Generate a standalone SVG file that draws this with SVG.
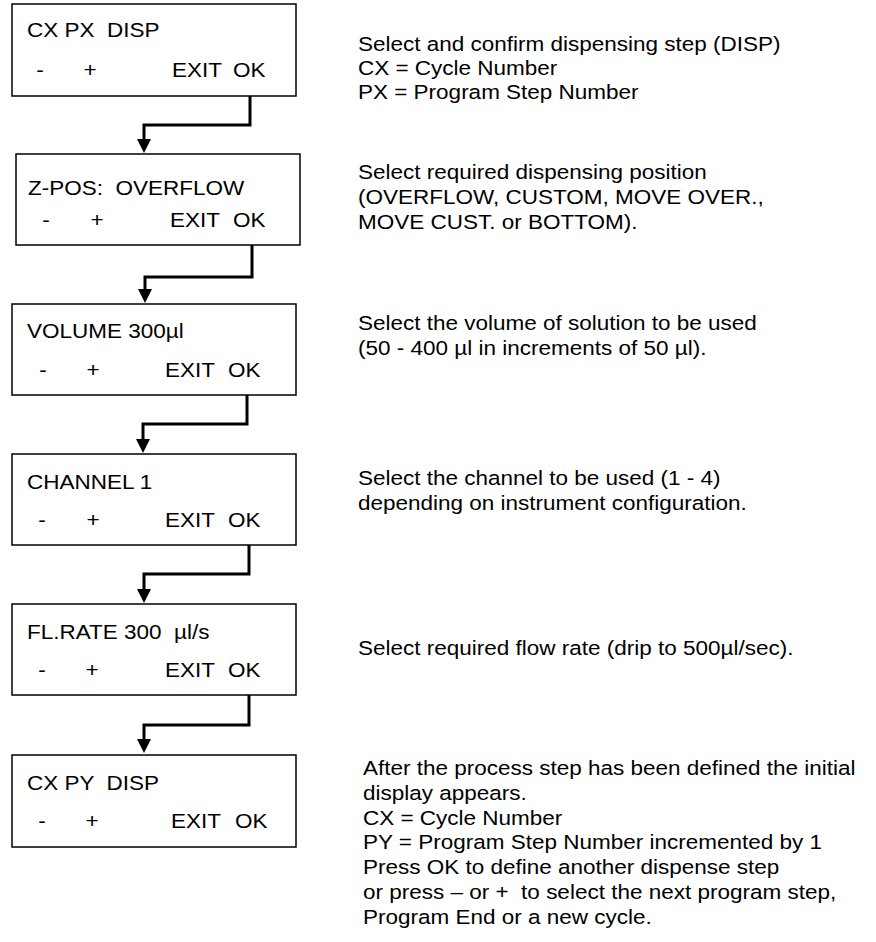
<svg xmlns="http://www.w3.org/2000/svg" width="876" height="942" viewBox="0 0 876 942">
<style>
.box{fill:#fff;stroke:#000;stroke-width:1.5}
.t{font-family:"Liberation Sans",Arial,sans-serif;font-size:22.5px;fill:#000}
.c{text-anchor:middle}
.d{font-family:"Liberation Sans",Arial,sans-serif;font-size:22.5px;fill:#000}
.con{fill:none;stroke:#000;stroke-width:3;marker-end:url(#ah)}
</style>
<defs>
<marker id="ah" markerUnits="userSpaceOnUse" viewBox="0 0 14 14" refX="2" refY="7" markerWidth="14" markerHeight="14" orient="auto">
<path d="M0,0 L14,7 L0,14 z" fill="#000"/>
</marker>
</defs>
<rect width="876" height="942" fill="#fff"/>
<g id="connectors">
<path class="con" d="M250,96 V125 H144 V141"/>
<path class="con" d="M252,245 V277 H145 V291"/>
<path class="con" d="M247,395 V424 H143 V441"/>
<path class="con" d="M249,545 V574 H144 V591"/>
<path class="con" d="M249,695 V725 H144 V741"/>
</g>
<g id="n1">
<rect class="box" x="12" y="4" width="284" height="92"/>
<g transform="scale(1,0.86)">
<text class="t" x="27" y="43.02" xml:space="preserve">CX PX  DISP</text>
<text class="t c" x="40" y="89.53">-</text><text class="t c" x="90" y="89.53">+</text>
<text class="t" x="172" y="89.53">EXIT</text><text class="t" x="233" y="89.53">OK</text>
</g>
</g>
<g id="n2">
<rect class="box" x="16" y="154" width="284" height="91"/>
<g transform="scale(1,0.86)">
<text class="t" x="28" y="226.74" xml:space="preserve">Z-POS:  OVERFLOW</text>
<text class="t c" x="46" y="263.95">-</text><text class="t c" x="97" y="263.95">+</text>
<text class="t" x="170" y="263.95">EXIT</text><text class="t" x="233" y="263.95">OK</text>
</g>
</g>
<g id="n3">
<rect class="box" x="12" y="304" width="284" height="91"/>
<g transform="scale(1,0.86)">
<text class="t" x="27" y="393.02">VOLUME 300µl</text>
<text class="t c" x="43" y="438.37">-</text><text class="t c" x="93" y="438.37">+</text>
<text class="t" x="165" y="438.37">EXIT</text><text class="t" x="228" y="438.37">OK</text>
</g>
</g>
<g id="n4">
<rect class="box" x="12" y="454" width="284" height="91"/>
<g transform="scale(1,0.86)">
<text class="t" x="27" y="568.6">CHANNEL 1</text>
<text class="t c" x="42" y="612.79">-</text><text class="t c" x="93" y="612.79">+</text>
<text class="t" x="165" y="612.79">EXIT</text><text class="t" x="228" y="612.79">OK</text>
</g>
</g>
<g id="n5">
<rect class="box" x="12" y="604" width="284" height="91"/>
<g transform="scale(1,0.86)">
<text class="t" x="27" y="743.02" xml:space="preserve">FL.RATE 300  µl/s</text>
<text class="t c" x="42" y="787.21">-</text><text class="t c" x="92" y="787.21">+</text>
<text class="t" x="165" y="787.21">EXIT</text><text class="t" x="228" y="787.21">OK</text>
</g>
</g>
<g id="n6">
<rect class="box" x="12" y="755" width="284" height="92"/>
<g transform="scale(1,0.86)">
<text class="t" x="27" y="918.6" xml:space="preserve">CX PY  DISP</text>
<text class="t c" x="42" y="962.79">-</text><text class="t c" x="92" y="962.79">+</text>
<text class="t" x="171" y="962.79">EXIT</text><text class="t" x="235" y="962.79">OK</text>
</g>
</g>
<g id="desc1" transform="scale(1,0.92)">
<text class="d" x="358" y="55.43">Select and confirm dispensing step (DISP)</text>
<text class="d" x="358" y="81.52">CX = Cycle Number</text>
<text class="d" x="358" y="107.61">PX = Program Step Number</text>
</g>
<g id="desc2" transform="scale(1,0.92)">
<text class="d" x="358" y="194.57">Select required dispensing position</text>
<text class="d" x="358" y="221.74">(OVERFLOW, CUSTOM, MOVE OVER.,</text>
<text class="d" x="358" y="248.91">MOVE CUST. or BOTTOM).</text>
</g>
<g id="desc3" transform="scale(1,0.92)">
<text class="d" x="358" y="358.7">Select the volume of solution to be used</text>
<text class="d" x="358" y="385.87">(50 - 400 µl in increments of 50 µl).</text>
</g>
<g id="desc4" transform="scale(1,0.92)">
<text class="d" x="358" y="527.17">Select the channel to be used (1 - 4)</text>
<text class="d" x="358" y="554.35">depending on instrument configuration.</text>
</g>
<g id="desc5" transform="scale(1,0.92)">
<text class="d" x="358" y="711.96">Select required flow rate (drip to 500µl/sec).</text>
</g>
<g id="desc6" transform="scale(1,0.92)">
<text class="d" x="363" y="842.39">After the process step has been defined the initial</text>
<text class="d" x="363" y="869.35">display appears.</text>
<text class="d" x="363" y="896.3">CX = Cycle Number</text>
<text class="d" x="363" y="923.26">PY = Program Step Number incremented by 1</text>
<text class="d" x="363" y="950.22">Press OK to define another dispense step</text>
<text class="d" x="363" y="977.17" xml:space="preserve">or press – or +  to select the next program step,</text>
<text class="d" x="363" y="1004.13">Program End or a new cycle.</text>
</g>
</svg>
